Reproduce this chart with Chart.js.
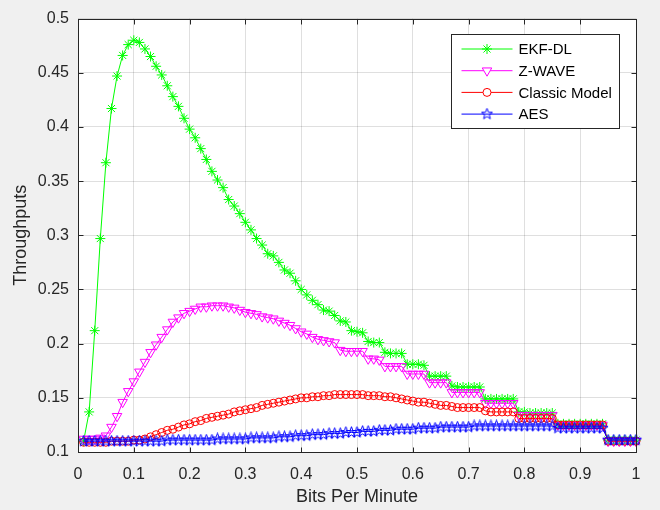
<!DOCTYPE html>
<html>
<head>
<meta charset="utf-8">
<script src="https://cdn.jsdelivr.net/npm/chart.js@4/dist/chart.umd.min.js"></script>
<style>
  html, body { margin: 0; padding: 0; background: #f0f0f0; }
  canvas { display: block; }
</style>
</head>
<body>
<canvas id="myChart" width="660" height="510"></canvas>
<script>
// x values (Bits Per Minute)
var bitsPerMinute = [
    0.01, 0.02, 0.03, 0.04, 0.05, 0.06, 0.07, 0.08, 0.09, 0.10,
    0.11, 0.12, 0.13, 0.14, 0.15, 0.16, 0.17, 0.18, 0.19, 0.20,
    0.21, 0.22, 0.23, 0.24, 0.25, 0.26, 0.27, 0.28, 0.29, 0.30,
    0.31, 0.32, 0.33, 0.34, 0.35, 0.36, 0.37, 0.38, 0.39, 0.40,
    0.41, 0.42, 0.43, 0.44, 0.45, 0.46, 0.47, 0.48, 0.49, 0.50,
    0.51, 0.52, 0.53, 0.54, 0.55, 0.56, 0.57, 0.58, 0.59, 0.60,
    0.61, 0.62, 0.63, 0.64, 0.65, 0.66, 0.67, 0.68, 0.69, 0.70,
    0.71, 0.72, 0.73, 0.74, 0.75, 0.76, 0.77, 0.78, 0.79, 0.80,
    0.81, 0.82, 0.83, 0.84, 0.85, 0.86, 0.87, 0.88, 0.89, 0.90,
    0.91, 0.92, 0.93, 0.94, 0.95, 0.96, 0.97, 0.98, 0.99, 1.00
];

var ekfDl = [
    0.110, 0.137, 0.212, 0.297, 0.367, 0.417, 0.447, 0.466, 0.476, 0.480,
    0.478, 0.472, 0.465, 0.456, 0.448, 0.438, 0.428, 0.419, 0.408, 0.398,
    0.390, 0.380, 0.370, 0.359, 0.351, 0.344, 0.333, 0.327, 0.320, 0.312,
    0.305, 0.297, 0.291, 0.283, 0.281, 0.275, 0.268, 0.265, 0.258, 0.250,
    0.245, 0.240, 0.236, 0.231, 0.230, 0.226, 0.221, 0.220, 0.212, 0.211,
    0.210, 0.202, 0.201, 0.201, 0.192, 0.191, 0.191, 0.191, 0.181, 0.181,
    0.181, 0.180, 0.170, 0.170, 0.170, 0.170, 0.161, 0.160, 0.160, 0.160,
    0.160, 0.160, 0.149, 0.149, 0.149, 0.149, 0.149, 0.149, 0.137, 0.137,
    0.136, 0.136, 0.136, 0.136, 0.136, 0.126, 0.126, 0.126, 0.126, 0.126,
    0.126, 0.126, 0.126, 0.126, 0.111, 0.111, 0.111, 0.111, 0.111, 0.111
];

var zWave = [
    0.112, 0.112, 0.112, 0.113, 0.115, 0.123, 0.133, 0.146, 0.156, 0.165,
    0.174, 0.183, 0.192, 0.199, 0.206, 0.213, 0.220, 0.224, 0.228, 0.230,
    0.232, 0.234, 0.234, 0.235, 0.235, 0.235, 0.234, 0.233, 0.231, 0.229,
    0.228, 0.227, 0.225, 0.224, 0.223, 0.221, 0.219, 0.217, 0.214, 0.211,
    0.209, 0.206, 0.204, 0.203, 0.202, 0.201, 0.194, 0.193, 0.193, 0.193,
    0.193, 0.186, 0.186, 0.185, 0.179, 0.179, 0.179, 0.179, 0.172, 0.172,
    0.172, 0.172, 0.164, 0.164, 0.164, 0.164, 0.155, 0.155, 0.155, 0.155,
    0.155, 0.155, 0.145, 0.145, 0.145, 0.145, 0.145, 0.145, 0.134, 0.134,
    0.134, 0.134, 0.134, 0.134, 0.134, 0.125, 0.125, 0.125, 0.125, 0.125,
    0.125, 0.125, 0.125, 0.125, 0.110, 0.110, 0.110, 0.110, 0.110, 0.110
];

var classicModel = [
    0.109, 0.109, 0.109, 0.109, 0.109, 0.110, 0.110, 0.110, 0.110, 0.111,
    0.111, 0.112, 0.114, 0.116, 0.118, 0.120, 0.121, 0.123, 0.125, 0.126,
    0.128, 0.129, 0.131, 0.132, 0.133, 0.134, 0.135, 0.137, 0.138, 0.139,
    0.140, 0.141, 0.143, 0.144, 0.145, 0.146, 0.147, 0.148, 0.149, 0.150,
    0.150, 0.151, 0.151, 0.152, 0.152, 0.153, 0.153, 0.153, 0.153, 0.153,
    0.153, 0.152, 0.152, 0.152, 0.151, 0.151, 0.150, 0.149, 0.148, 0.147,
    0.146, 0.146, 0.145, 0.144, 0.143, 0.143, 0.142, 0.141, 0.141, 0.141,
    0.141, 0.141, 0.138, 0.137, 0.137, 0.137, 0.137, 0.137, 0.131, 0.131,
    0.131, 0.131, 0.131, 0.131, 0.131, 0.125, 0.125, 0.125, 0.125, 0.125,
    0.125, 0.125, 0.125, 0.125, 0.110, 0.110, 0.110, 0.110, 0.110, 0.110
];

var aes = [
    0.110, 0.110, 0.110, 0.110, 0.110, 0.110, 0.110, 0.110, 0.110, 0.110,
    0.110, 0.110, 0.110, 0.110, 0.110, 0.111, 0.111, 0.111, 0.111, 0.111,
    0.111, 0.111, 0.111, 0.111, 0.112, 0.112, 0.112, 0.112, 0.112, 0.112,
    0.113, 0.113, 0.113, 0.113, 0.113, 0.114, 0.114, 0.114, 0.115, 0.115,
    0.115, 0.116, 0.116, 0.116, 0.117, 0.117, 0.117, 0.118, 0.118, 0.118,
    0.119, 0.119, 0.119, 0.120, 0.120, 0.120, 0.121, 0.121, 0.121, 0.121,
    0.122, 0.122, 0.122, 0.122, 0.123, 0.123, 0.123, 0.123, 0.123, 0.123,
    0.124, 0.124, 0.124, 0.124, 0.124, 0.124, 0.124, 0.124, 0.124, 0.124,
    0.124, 0.124, 0.124, 0.124, 0.124, 0.122, 0.122, 0.122, 0.122, 0.122,
    0.122, 0.122, 0.122, 0.122, 0.111, 0.111, 0.111, 0.111, 0.111, 0.111
];

var seriesNames = ["EKF-DL", "Z-WAVE", "Classic Model", "AES"];
var xTickValues = [0, 0.1, 0.2, 0.3, 0.4, 0.5, 0.6, 0.7, 0.8, 0.9, 1];
var xTickLabels = ["0", "0.1", "0.2", "0.3", "0.4", "0.5", "0.6", "0.7", "0.8", "0.9", "1"];
var yTickValues = [0.1, 0.15, 0.2, 0.25, 0.3, 0.35, 0.4, 0.45, 0.5];
var yTickLabels = ["0.1", "0.15", "0.2", "0.25", "0.3", "0.35", "0.4", "0.45", "0.5"];

var FONT = '"Liberation Sans", Arial, sans-serif';
var AXIS_COLOR = '#262626';

// pentagram marker (matlab 'p'), chart.js has no such point style
function makePentagram(color) {
    var c = document.createElement('canvas');
    c.width = 13;
    c.height = 13;
    var g = c.getContext('2d');
    g.strokeStyle = color;
    g.lineWidth = 1;
    g.beginPath();
    for (var i = 0; i < 10; i++) {
        var r = i % 2 ? 2.4 : 5.8;
        var a = -Math.PI / 2 + i * Math.PI / 5;
        var px = 6.5 + r * Math.cos(a);
        var py = 6.5 + r * Math.sin(a);
        if (i == 0) g.moveTo(px, py); else g.lineTo(px, py);
    }
    g.closePath();
    g.stroke();
    return c;
}

function toPoints(ys) {
    return bitsPerMinute.map(function(x, i) {
        return { x: x, y: ys[i] };
    });
}

function lineSet(label, ys, color, style, radius, rotation, order) {
    return {
        label: label,
        data: toPoints(ys),
        borderColor: color,
        borderWidth: 1,
        pointStyle: style,
        pointRadius: radius,
        pointHoverRadius: radius,
        pointRotation: rotation,
        pointBorderColor: color,
        pointBorderWidth: 1,
        pointBackgroundColor: 'rgba(0,0,0,0)',
        tension: 0,
        fill: false,
        clip: false,
        order: order
    };
}

// white plot area
var plotBg = {
    id: 'plotBg',
    beforeDraw: function(chart) {
        var ca = chart.chartArea;
        var ctx = chart.ctx;
        ctx.save();
        ctx.fillStyle = '#ffffff';
        ctx.fillRect(ca.left, ca.top, ca.right - ca.left, ca.bottom - ca.top);
        ctx.restore();
    }
};

// box round the axes and inward ticks on all four sides
var axesBox = {
    id: 'axesBox',
    afterDatasetsDraw: function(chart) {
        var ca = chart.chartArea;
        var ctx = chart.ctx;
        var xs = chart.scales.x, ys = chart.scales.y;
        var L = Math.round(ca.left) + 0.5, R = Math.round(ca.right) + 0.5;
        var T = Math.round(ca.top) + 0.5, B = Math.round(ca.bottom) + 0.5;
        var tl = 5;
        ctx.save();
        ctx.strokeStyle = AXIS_COLOR;
        ctx.lineWidth = 1;
        ctx.strokeRect(L, T, R - L, B - T);
        ctx.beginPath();
        xTickValues.forEach(function(v) {
            var px = Math.round(xs.getPixelForValue(v)) + 0.5;
            ctx.moveTo(px, B); ctx.lineTo(px, B - tl);
            ctx.moveTo(px, T); ctx.lineTo(px, T + tl);
        });
        yTickValues.forEach(function(v) {
            var py = Math.round(ys.getPixelForValue(v)) + 0.5;
            ctx.moveTo(L, py); ctx.lineTo(L + tl, py);
            ctx.moveTo(R, py); ctx.lineTo(R - tl, py);
        });
        ctx.stroke();
        ctx.restore();
    }
};

// matlab style legend, upper right inside the axes
var legendBox = {
    id: 'legendBox',
    afterDraw: function(chart) {
        var ca = chart.chartArea;
        var ctx = chart.ctx;
        var bx = Math.round(ca.right) - 185 + 0.5, by = Math.round(ca.top) + 15 + 0.5;
        var bw = 168, bh = 94;
        ctx.save();
        ctx.fillStyle = '#ffffff';
        ctx.fillRect(bx, by, bw, bh);
        ctx.strokeStyle = AXIS_COLOR;
        ctx.lineWidth = 1;
        ctx.strokeRect(bx, by, bw, bh);
        chart.data.datasets.forEach(function(ds, i) {
            var y = by + 14.5 + i * 21.7;
            ctx.strokeStyle = ds.borderColor;
            ctx.lineWidth = 1;
            ctx.beginPath();
            ctx.moveTo(bx + 10, y);
            ctx.lineTo(bx + 61, y);
            ctx.stroke();
            ctx.fillStyle = '#ffffff';
            Chart.helpers.drawPoint(ctx, {
                pointStyle: ds.pointStyle,
                rotation: ds.pointRotation || 0,
                radius: ds.pointRadius,
                borderWidth: 1
            }, bx + 35.5, y);
            ctx.fillStyle = '#000000';
            ctx.font = '15px ' + FONT;
            ctx.textBaseline = 'middle';
            ctx.textAlign = 'left';
            ctx.fillText(ds.label, bx + 67, y + 1);
        });
        ctx.restore();
    }
};

Chart.defaults.font.family = FONT;

var ctx = document.getElementById("myChart").getContext('2d');
var myChart = new Chart(ctx, {
    type: 'line',
    data: {
        datasets: [
            lineSet(seriesNames[0], ekfDl, '#00ff00', 'star', 5, 0, 4),
            lineSet(seriesNames[1], zWave, '#ff00ff', 'triangle', 5.5, 180, 3),
            lineSet(seriesNames[2], classicModel, '#ff0000', 'circle', 4, 0, 2),
            lineSet(seriesNames[3], aes, '#0000ff', makePentagram('#0000ff'), 5, 0, 1)
        ]
    },
    options: {
        responsive: false,
        animation: false,
        devicePixelRatio: 1,
        layout: { padding: { left: 0, right: 24, top: 13, bottom: 0 } },
        plugins: {
            legend: { display: false },
            tooltip: { enabled: false }
        },
        scales: {
            x: {
                type: 'linear',
                min: 0,
                max: 1,
                afterBuildTicks: function(scale) {
                    scale.ticks = xTickValues.map(function(v) { return { value: v }; });
                },
                afterFit: function(scale) { scale.height = 58; },
                ticks: {
                    autoSkip: false,
                    maxRotation: 0,
                    padding: 13,
                    color: AXIS_COLOR,
                    font: { size: 16 },
                    callback: function(v, i) { return xTickLabels[i]; }
                },
                grid: { color: 'rgba(38,38,38,0.15)', drawTicks: false },
                border: { display: false },
                title: {
                    display: true,
                    text: 'Bits Per Minute',
                    color: AXIS_COLOR,
                    font: { size: 18 },
                    padding: { top: 0, bottom: 2 }
                }
            },
            y: {
                type: 'linear',
                min: 0.1,
                max: 0.5,
                afterBuildTicks: function(scale) {
                    scale.ticks = yTickValues.map(function(v) { return { value: v }; });
                },
                afterFit: function(scale) { scale.width = 78; },
                ticks: {
                    autoSkip: false,
                    padding: 9,
                    color: AXIS_COLOR,
                    font: { size: 16 },
                    callback: function(v, i) { return yTickLabels[i]; }
                },
                grid: { color: 'rgba(38,38,38,0.15)', drawTicks: false },
                border: { display: false },
                title: {
                    display: true,
                    text: 'Throughputs',
                    color: AXIS_COLOR,
                    font: { size: 18 },
                    padding: { top: 10, bottom: 0 }
                }
            }
        }
    },
    plugins: [plotBg, axesBox, legendBox]
});
</script>
</body>
</html>
